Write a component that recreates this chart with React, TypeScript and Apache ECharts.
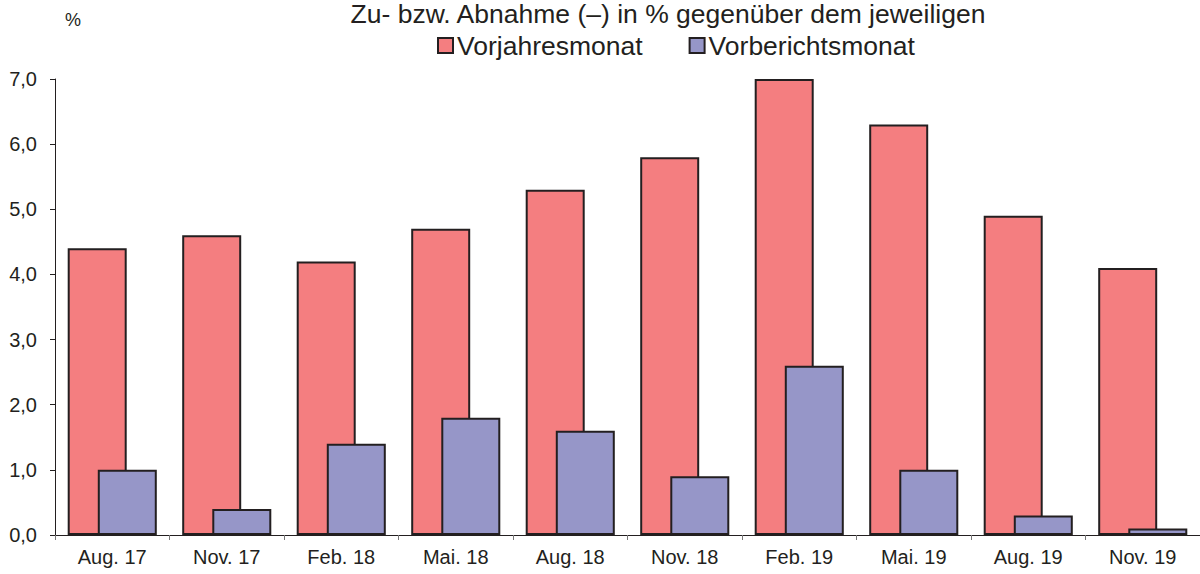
import React, { useEffect, useRef } from "react";
import * as echarts from "echarts";

const categories = ["Aug. 17", "Nov. 17", "Feb. 18", "Mai. 18", "Aug. 18", "Nov. 18", "Feb. 19", "Mai. 19", "Aug. 19", "Nov. 19"];
const vorjahresmonat = [4.4, 4.6, 4.2, 4.7, 5.3, 5.8, 7.0, 6.3, 4.9, 4.1];
const vorberichtsmonat = [1.0, 0.4, 1.4, 1.8, 1.6, 0.9, 2.6, 1.0, 0.3, 0.1];
const titleText = "Zu- bzw. Abnahme (–) in % gegenüber dem jeweiligen";
const unitText = "%";

const FONT = "'Liberation Sans', Arial, sans-serif";
const INK = "#231f20";

export default function App() {
  const ref = useRef<HTMLDivElement>(null);
  useEffect(() => {
    document.body.style.margin = "0";
    if (!ref.current) return;
    const chart = echarts.init(ref.current, null, { renderer: "svg" });
    chart.setOption({
      animation: false,
      textStyle: { fontFamily: FONT, color: INK },
      graphic: [
        {
          type: "text",
          x: 668,
          y: 14,
          style: { text: titleText, font: `26.5px ${FONT}`, fill: INK, textAlign: "center", textVerticalAlign: "middle" },
        },
        {
          type: "text",
          x: 73,
          y: 20,
          style: { text: unitText, font: `18px ${FONT}`, fill: INK, textAlign: "center", textVerticalAlign: "middle" },
        },
      ],
      legend: {
        left: 437,
        top: 32,
        padding: 0,
        itemWidth: 15,
        itemHeight: 15,
        itemGap: 46,
        icon: "rect",
        textStyle: { fontSize: 26.5, fontFamily: FONT, color: INK, padding: [0, 0, 0, -1] },
        data: ["Vorjahresmonat", "Vorberichtsmonat"],
      },
      grid: { left: 55, right: 0, top: 79, bottom: 39, containLabel: false },
      xAxis: {
        type: "category",
        data: categories,
        boundaryGap: true,
        axisLine: { lineStyle: { color: INK, width: 1 } },
        axisTick: { show: true, alignWithLabel: false, length: 5, lineStyle: { color: "#777" } },
        axisLabel: { fontSize: 20, fontFamily: FONT, color: INK, margin: 12 },
      },
      yAxis: {
        type: "value",
        min: 0,
        max: 7,
        interval: 1,
        axisLine: { show: true, lineStyle: { color: INK, width: 1 } },
        axisTick: { show: true, length: 5, lineStyle: { color: INK } },
        splitLine: { show: false },
        axisLabel: {
          fontSize: 20,
          fontFamily: FONT,
          color: INK,
          margin: 18,
          formatter: (v: number) => v.toFixed(1).replace(".", ","),
        },
      },
      series: [
        {
          name: "Vorjahresmonat",
          type: "bar",
          data: vorjahresmonat,
          barWidth: 59,
          barGap: "-49%",
          itemStyle: { color: "#f47e80", borderColor: INK, borderWidth: 2 },
        },
        {
          name: "Vorberichtsmonat",
          type: "bar",
          data: vorberichtsmonat,
          barWidth: 59,
          barGap: "-49%",
          itemStyle: { color: "#9696c8", borderColor: INK, borderWidth: 2 },
        },
      ],
    });
    return () => chart.dispose();
  }, []);
  return <div ref={ref} style={{ width: 1200, height: 574 }} />;
}
